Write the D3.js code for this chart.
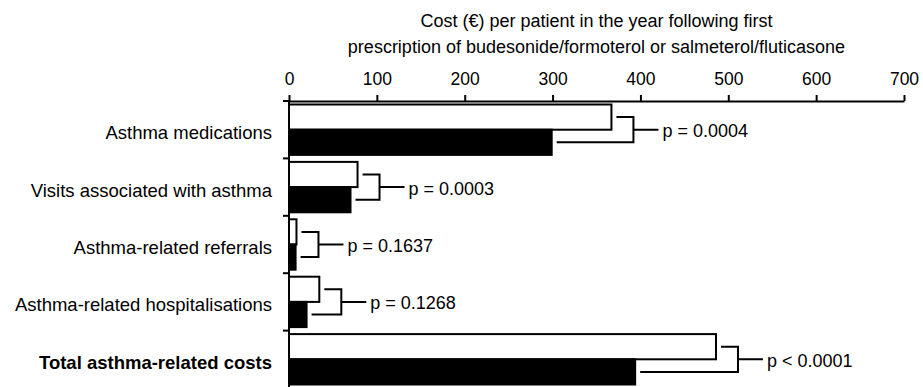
<!DOCTYPE html>
<html>
<head>
<meta charset="utf-8">
<script src="https://cdn.jsdelivr.net/npm/d3@7"></script>
<style>
  html, body { margin: 0; padding: 0; background: #fff; }
  svg { display: block; font-family: "Liberation Sans", Arial, Helvetica, sans-serif; }
</style>
</head>
<body>
<svg id="chart" width="923" height="387"></svg>
<script>
const categories = [
  "Asthma medications",
  "Visits associated with asthma",
  "Asthma-related referrals",
  "Asthma-related hospitalisations",
  "Total asthma-related costs"
];
const seriesNames = ["Salmeterol/fluticasone", "Budesonide/formoterol"];
const whiteValues = [367, 78, 8.5, 34.5, 486];
const blackValues = [299, 70, 7.5, 20, 394];
const pLabels = ["p = 0.0004", "p = 0.0003", "p = 0.1637", "p = 0.1268", "p < 0.0001"];
const xTicks = [0, 100, 200, 300, 400, 500, 600, 700];
const titleLines = [
  "Cost (\u20AC) per patient in the year following first",
  "prescription of budesonide/formoterol or salmeterol/fluticasone"
];

(function () {
const svg = d3.select("#chart");
const mLeft = 289, mRight = 904, mTop = 101, mBottom = 388;

const x = d3.scaleLinear().domain([0, 700]).range([mLeft, mRight]);
const y = d3.scaleBand().domain(categories).range([mTop, mBottom]).paddingInner(0).paddingOuter(0);
const inner = d3.scaleBand().domain(seriesNames).range([3.5, y.bandwidth() - 3.5]);

// Title
svg.append("text")
  .attr("text-anchor", "middle")
  .attr("font-size", 18)
  .selectAll("tspan").data(titleLines).join("tspan")
  .attr("x", (mLeft + mRight) / 2)
  .attr("y", (d, i) => 27 + i * 26)
  .text(d => d);

// Top axis
const xAxis = svg.append("g")
  .attr("transform", `translate(0,${mTop})`)
  .call(d3.axisTop(x).tickValues(xTicks).tickSize(6).tickSizeOuter(0).tickPadding(10));
xAxis.select(".domain").attr("stroke-width", 2);
xAxis.selectAll(".tick line").attr("stroke-width", 2);
xAxis.selectAll(".tick text").attr("font-size", 17.5).attr("font-family", "Liberation Sans, Arial, sans-serif").attr("fill", "#000");

// Left axis line and separator ticks
const boundaries = categories.map(c => y(c)).concat([mBottom]);
svg.append("line").attr("x1", mLeft).attr("x2", mLeft).attr("y1", mTop).attr("y2", mBottom)
  .attr("stroke", "#000").attr("stroke-width", 2);
svg.append("g").selectAll("line").data(boundaries.slice(0, 5)).join("line")
  .attr("x1", mLeft - 6).attr("x2", mLeft).attr("y1", d => d).attr("y2", d => d)
  .attr("stroke", "#000").attr("stroke-width", 2);

// Category labels
svg.append("g").selectAll("text").data(categories).join("text")
  .attr("x", 272).attr("y", d => y(d) + y.bandwidth() / 2 + 9.5)
  .attr("text-anchor", "end")
  .attr("font-size", 18.5)
  .attr("font-weight", (d, i) => i === categories.length - 1 ? "bold" : "normal")
  .text(d => d);

// Bars
const rows = categories.map((c, i) => ({ c, w: whiteValues[i], b: blackValues[i], p: pLabels[i] }));
const g = svg.append("g");
g.selectAll("rect.w").data(rows).join("rect").attr("class", "w")
  .attr("x", x(0)).attr("y", d => y(d.c) + inner(seriesNames[0]))
  .attr("width", d => x(d.w) - x(0)).attr("height", inner.bandwidth())
  .attr("fill", "#fff").attr("stroke", "#000").attr("stroke-width", 2);
g.selectAll("rect.b").data(rows).join("rect").attr("class", "b")
  .attr("x", x(0)).attr("y", d => y(d.c) + inner(seriesNames[1]))
  .attr("width", d => x(d.b) - x(0)).attr("height", inner.bandwidth())
  .attr("fill", "#000").attr("stroke", "#000").attr("stroke-width", 2);

// Brackets
const br = svg.append("g").attr("fill", "none").attr("stroke", "#000").attr("stroke-width", 2);
rows.forEach(d => {
  const wy = y(d.c) + inner(seriesNames[0]) + inner.bandwidth() / 2;
  const by = y(d.c) + inner(seriesNames[1]) + inner.bandwidth() / 2;
  const we = x(d.w), be = x(d.b);
  const vx = Math.max(we, be) + 22;
  const my = (wy + by) / 2;
  br.append("path").attr("d",
    `M${we + 5},${wy}H${vx}V${by}H${be + 5}M${vx},${my}H${vx + 25}`);
  svg.append("text").attr("x", vx + 29).attr("y", my + 7.5)
    .attr("font-size", 18).text(d.p);
});
})();
</script>
</body>
</html>
